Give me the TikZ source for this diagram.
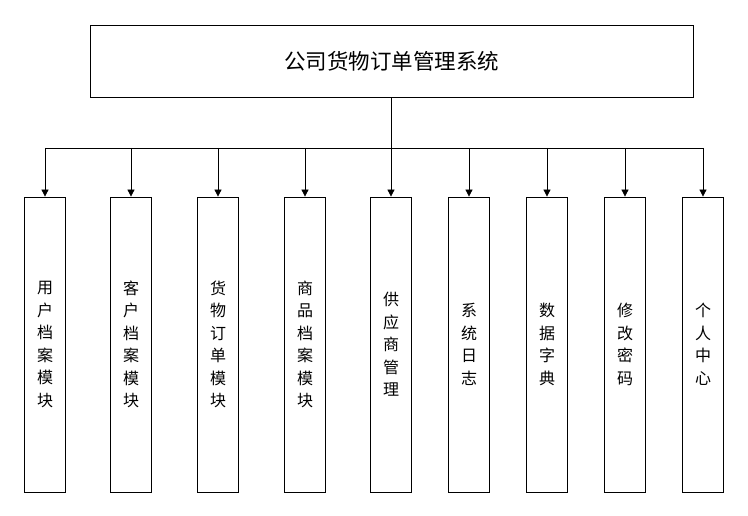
\documentclass[tikz,border=0pt]{standalone}
\usepackage{fontspec}
\setmainfont{Noto Sans CJK SC}
\usetikzlibrary{arrows.meta}
\begin{document}
\begin{tikzpicture}[x=1pt,y=-1pt,thick,
    every node/.style={draw, inner sep=0pt},
    modbox/.style={minimum width=41pt, minimum height=295pt, font=\fontsize{16}{22.5}\selectfont, align=center},
    arr/.style={-{Triangle[length=7pt,width=7pt]}}]
    \useasboundingbox (0,0) rectangle (748,516);
    % Top box
    \node[minimum width=603pt, minimum height=72pt, font=\fontsize{21.5}{24}\selectfont] (top) at (391.5,61) {公司货物订单管理系统};
    \coordinate (bar) at (391.5,148);
    \draw (top.south) -- (bar);
    % Modules
    \foreach \x/\n/\t in {45/m1/用\\户\\档\\案\\模\\块, 131/m2/客\\户\\档\\案\\模\\块, 218/m3/货\\物\\订\\单\\模\\块,
        305/m4/商\\品\\档\\案\\模\\块, 391/m5/供\\应\\商\\管\\理, 469/m6/系\\统\\日\\志,
        547/m7/数\\据\\字\\典, 625/m8/修\\改\\密\\码, 703/m9/个\\人\\中\\心}{
        \node[modbox] (\n) at (\x,344.5) {\t};
        \coordinate (\n t) at (\x,148);
        \draw[arr] (\n t) -- (\n.north);
    }
    \draw (m1t) -- (m9t);
\end{tikzpicture}
\end{document}
